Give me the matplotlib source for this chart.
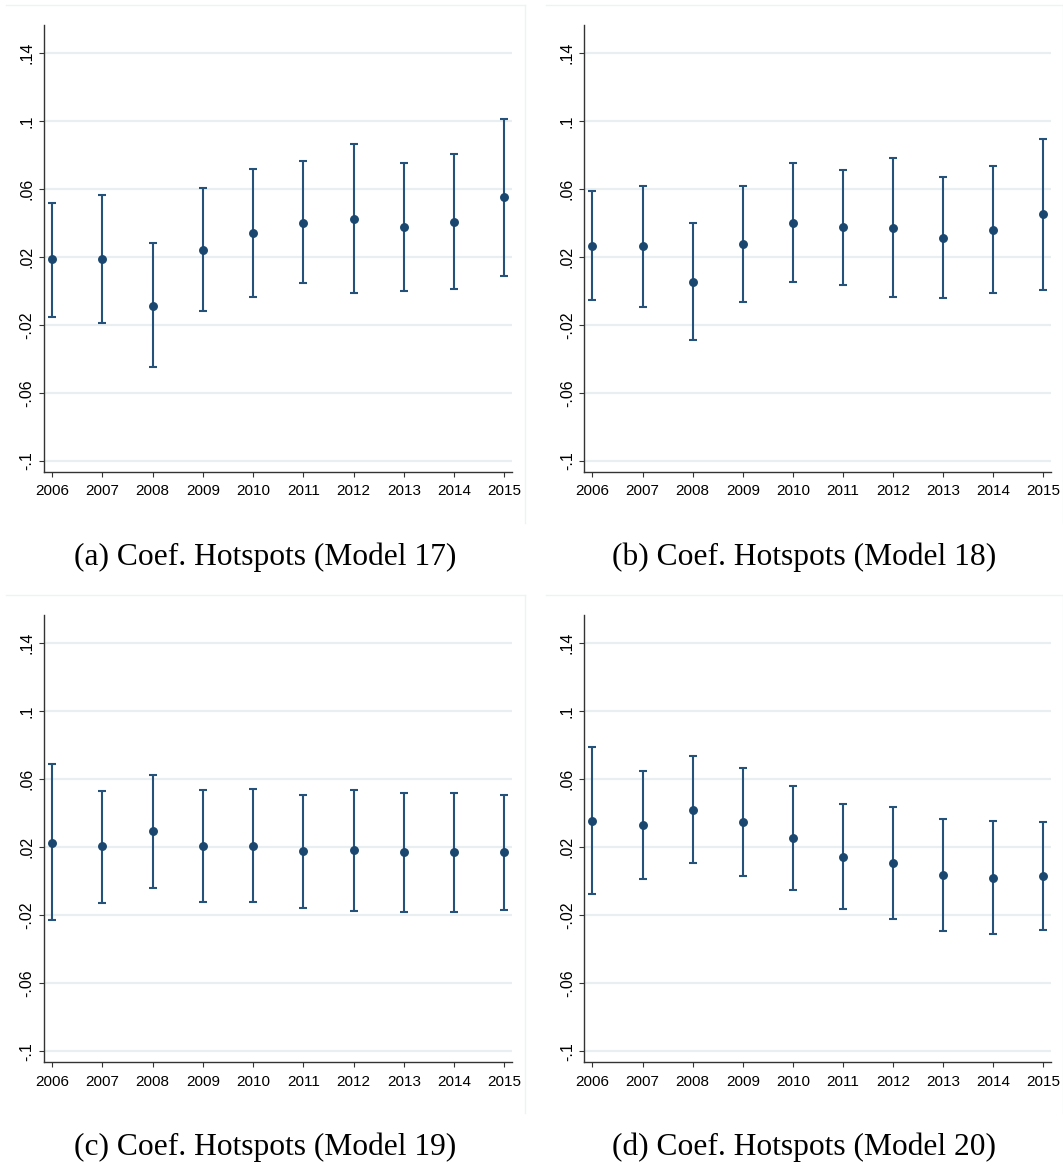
import matplotlib
matplotlib.use("Agg")
import matplotlib.pyplot as plt
from matplotlib.lines import Line2D

W, H = 1063, 1166

years = [2006, 2007, 2008, 2009, 2010, 2011, 2012, 2013, 2014, 2015]
ytick_vals = [0.14, 0.10, 0.06, 0.02, -0.02, -0.06, -0.10]
ytick_labels = [".14", ".1", ".06", ".02", "-.02", "-.06", "-.1"]

# Model 17
coef_17 = [0.0186, 0.0186, -0.0090, 0.0242, 0.0341, 0.0402, 0.0424, 0.0375, 0.0408, 0.0551]
hi_17 = [0.0517, 0.0563, 0.0279, 0.0605, 0.0720, 0.0765, 0.0862, 0.0753, 0.0805, 0.1009]
lo_17 = [-0.0153, -0.0189, -0.0450, -0.0121, -0.0038, 0.0045, -0.0014, -0.0002, 0.0014, 0.0089]

# Model 18
coef_18 = [0.0265, 0.0265, 0.0055, 0.0277, 0.0402, 0.0375, 0.0369, 0.0311, 0.0357, 0.0450]
hi_18 = [0.0587, 0.0620, 0.0398, 0.0617, 0.0753, 0.0712, 0.0783, 0.0672, 0.0735, 0.0896]
lo_18 = [-0.0054, -0.0094, -0.0290, -0.0064, 0.0055, 0.0037, -0.0038, -0.0044, -0.0014, 0.0008]

# Model 19
coef_19 = [0.0228, 0.0206, 0.0297, 0.0206, 0.0210, 0.0178, 0.0182, 0.0172, 0.0172, 0.0172]
hi_19 = [0.0688, 0.0533, 0.0624, 0.0537, 0.0543, 0.0505, 0.0537, 0.0521, 0.0521, 0.0509]
lo_19 = [-0.0230, -0.0127, -0.0038, -0.0121, -0.0121, -0.0157, -0.0173, -0.0181, -0.0181, -0.0167]

# Model 20
coef_20 = [0.0353, 0.0331, 0.0422, 0.0349, 0.0256, 0.0140, 0.0107, 0.0037, 0.0020, 0.0031]
hi_20 = [0.0791, 0.0646, 0.0739, 0.0666, 0.0561, 0.0454, 0.0438, 0.0365, 0.0357, 0.0349]
lo_20 = [-0.0074, 0.0016, 0.0107, 0.0033, -0.0054, -0.0163, -0.0224, -0.0294, -0.0312, -0.0288]

captions = [
    "(a) Coef. Hotspots (Model 17)",
    "(b) Coef. Hotspots (Model 18)",
    "(c) Coef. Hotspots (Model 19)",
    "(d) Coef. Hotspots (Model 20)",
]

navy = "#1a476f"
grid_col = "#e9eff1"
frame_col = "#eef2f3"


def px_rect(left, top, right, bottom):
    return [left / W, 1 - bottom / H, (right - left) / W, (bottom - top) / H]


def panel(fig, rect, coef, lo, hi):
    ax = fig.add_axes(rect)
    err = [[c - l for c, l in zip(coef, lo)], [h - c for c, h in zip(coef, hi)]]
    for v in ytick_vals:
        ax.axhline(v, color=grid_col, lw=1.6, zorder=0)
    ax.errorbar(years, coef, yerr=err, fmt="o", color=navy, ecolor="#24527a",
                elinewidth=1.5, capsize=2.6, capthick=1.5, markersize=5.4, zorder=3)
    ax.set_xlim(2005.84, 2015.15)
    ax.set_ylim(-0.1064, 0.1563)
    ax.set_xticks(years)
    ax.set_xticklabels([str(y) for y in years],
                       family=["Liberation Sans Narrow", "Liberation Sans"], fontsize=11)
    ax.set_yticks(ytick_vals)
    ax.set_yticklabels(ytick_labels, rotation=90, va="center",
                       family=["Liberation Sans"], fontsize=11.5)
    for s in ["top", "right"]:
        ax.spines[s].set_visible(False)
    for s in ["left", "bottom"]:
        ax.spines[s].set_color("#333333")
        ax.spines[s].set_linewidth(1.0)
    ax.tick_params(axis="both", direction="out", length=3.8, width=0.8, color="#333333")
    ax.tick_params(axis="x", pad=5)
    ax.tick_params(axis="y", pad=3)
    return ax


fig = plt.figure(figsize=(W / 100, H / 100), dpi=100)

# faint outline of each sub-graph (only top and right edges show)
frames = [(6, 5, 525, 523), (546, 5, 1063, 523), (6, 595, 525, 1113), (546, 595, 1063, 1113)]
for l, t, r, b in frames:
    fig.add_artist(Line2D([l / W, r / W], [1 - t / H, 1 - t / H],
                          transform=fig.transFigure, color=frame_col, lw=1.0))
    fig.add_artist(Line2D([r / W, r / W], [1 - t / H, 1 - b / H],
                          transform=fig.transFigure, color=frame_col, lw=1.0))

axes_px = [(44, 25.4, 512, 471.6), (584.4, 25.4, 1051, 471.6),
           (44, 615.4, 512, 1062.3), (584.4, 615.4, 1051, 1062.3)]
data = [(coef_17, lo_17, hi_17), (coef_18, lo_18, hi_18),
        (coef_19, lo_19, hi_19), (coef_20, lo_20, hi_20)]

for r, (c, l, h) in zip(axes_px, data):
    panel(fig, px_rect(*r), c, l, h)

cap_pos = [(265.5, 565), (804.5, 565), (265.5, 1155), (804.5, 1155)]
for (x, y), txt in zip(cap_pos, captions):
    fig.text(x / W, 1 - y / H, txt, ha="center", va="baseline",
             family=["Liberation Serif"], fontsize=22.7, color="black")

fig.savefig("out.png", dpi=100)
